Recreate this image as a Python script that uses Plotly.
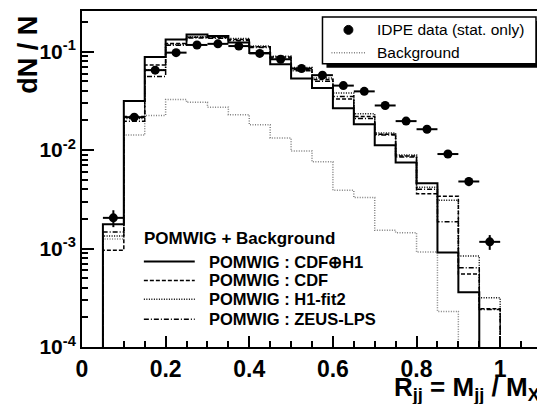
import numpy as np
import plotly.graph_objects as go

# ---------------- data ----------------
bin_lo = [0.05, 0.10, 0.15, 0.20, 0.25, 0.30, 0.35, 0.40, 0.45, 0.50,
          0.55, 0.60, 0.65, 0.70, 0.75, 0.80, 0.85, 0.90, 0.95]
bin_width = 0.05

data_y = [0.00205, 0.0216, 0.0649, 0.0977, 0.117, 0.120, 0.114, 0.096, 0.0837, 0.0674,
          0.0577, 0.0452, 0.0395, 0.0284, 0.0197, 0.0163, 0.00912, 0.0048, 0.00117]
data_err = [0.0004, 0.0012, 0.0022, 0.0028, 0.003, 0.003, 0.003, 0.0028, 0.0026, 0.0023,
            0.0021, 0.0019, 0.0017, 0.0015, 0.0012, 0.0011, 0.0008, 0.0005, 0.0002]

cdf_h1 = [0.00177, 0.0315, 0.0885, 0.133, 0.149, 0.144, 0.124, 0.097, 0.0745, 0.0535,
          0.0427, 0.0266, 0.0183, 0.0112, 0.0075, 0.0046, 0.00091, 0.00036, 0.0]
cdf = [0.00096, 0.0219, 0.073, 0.121, 0.140, 0.139, 0.133, 0.112, 0.088, 0.066,
       0.052, 0.033, 0.022, 0.0145, 0.0087, 0.0036, 0.0034, 0.00055, 0.000245]
h1fit2 = [0.00134, 0.021, 0.065, 0.118, 0.142, 0.141, 0.136, 0.114, 0.090, 0.069,
          0.054, 0.038, 0.0234, 0.0149, 0.0089, 0.0042, 0.0031, 0.00084, 0.000316]
zeus_lps = [0.00147, 0.0196, 0.056, 0.116, 0.138, 0.137, 0.130, 0.110, 0.086, 0.064,
            0.050, 0.035, 0.021, 0.0142, 0.0085, 0.0040, 0.00187, 0.00064, 0.00024]
background = [0.00125, 0.0142, 0.0225, 0.0326, 0.0306, 0.0273, 0.0229, 0.0181, 0.0133, 0.0098,
              0.0076, 0.0039, 0.0033, 0.00153, 0.00145, 0.00092, 0.00023, 0.0, 0.0]

y_tickvals = [1e-4, 1e-3, 1e-2, 1e-1]
y_ticktext = ["10<sup>-4</sup>", "10<sup>-3</sup>", "10<sup>-2</sup>", "10<sup>-1</sup>"]
x_tickvals = [0, 0.2, 0.4, 0.6, 0.8, 1.0]
x_ticktext = ["0", "0.2", "0.4", "0.6", "0.8", "1"]

FLOOR = 1e-7
FONT = "Liberation Sans, Arial, Helvetica, sans-serif"


def step(values):
    lo = np.array(bin_lo)
    v = np.array(values, dtype=float)
    v = np.where(v > 0, v, FLOOR)
    xs = np.concatenate([[lo[0]], lo, [lo[-1] + bin_width]])
    ys = np.concatenate([[FLOOR], v, [FLOOR]])
    return xs, ys


fig = go.Figure()

hist_styles = [
    (background, "#808080", "1px,1.5px", 1.5),
    (h1fit2, "black", "1px,1.5px", 1.5),
    (zeus_lps, "black", "5px,2px,1px,2px", 1.5),
    (cdf, "black", "4px,2px", 1.5),
    (cdf_h1, "black", "solid", 2),
]
for vals, col, dash, w in hist_styles:
    xs, ys = step(vals)
    fig.add_trace(go.Scatter(x=xs, y=ys, mode="lines", line_shape="hv",
                             line=dict(color=col, dash=dash, width=w),
                             showlegend=False, hoverinfo="skip"))

centers = [b + bin_width / 2 for b in bin_lo]
fig.add_trace(go.Scatter(
    x=centers, y=data_y, mode="markers",
    marker=dict(symbol="circle", size=9, color="black"),
    error_x=dict(type="constant", value=bin_width / 2, color="black", thickness=2, width=0),
    error_y=dict(type="data", array=data_err, color="black", thickness=2, width=0),
    showlegend=False))

# ---------------- layout ----------------
# page has an 8px body margin; target page coords: plot area x 82..543, y 8..347
OFF = 8
W, H = 537, 396
L, R, T, B = 74, 2, 1, 57
pw, ph = W - L - R, H - T - B


def px(x):
    return (x - OFF - L) / pw


def py(y):
    return (H - B - (y - OFF)) / ph


shapes = []
annotations = []

# top-right legend with shadow
shapes.append(dict(type="rect", xref="paper", yref="paper",
                   x0=px(327), x1=px(541), y0=py(66), y1=py(19),
                   fillcolor="black", line=dict(width=0), layer="above"))
shapes.append(dict(type="rect", xref="paper", yref="paper",
                   x0=px(323), x1=px(537), y0=py(62), y1=py(15),
                   fillcolor="white", line=dict(color="black", width=1.5), layer="above"))
shapes.append(dict(type="circle", xref="paper", yref="paper",
                   x0=px(344.5), x1=px(353.5), y0=py(32.5), y1=py(23.5),
                   fillcolor="black", line=dict(color="black", width=1), layer="above"))
shapes.append(dict(type="line", xref="paper", yref="paper",
                   x0=px(332), x1=px(367), y0=py(51), y1=py(51),
                   line=dict(color="#808080", dash="1px,1.5px", width=1.5), layer="above"))
annotations.append(dict(text="IDPE data (stat. only)", xref="paper", yref="paper",
                        x=px(376), y=py(28), xanchor="left", yanchor="middle", showarrow=False,
                        font=dict(family=FONT, size=15.5, color="black")))
annotations.append(dict(text="Background", xref="paper", yref="paper",
                        x=px(376), y=py(51), xanchor="left", yanchor="middle", showarrow=False,
                        font=dict(family=FONT, size=15.5, color="black")))

# bottom-left legend
annotations.append(dict(text="<b>POMWIG + Background</b>", xref="paper", yref="paper",
                        x=px(142), y=py(238), xanchor="left", yanchor="middle", showarrow=False,
                        font=dict(family=FONT, size=17, color="black")))
leg2 = [("POMWIG : CDF⊕H1", "solid", 2, 261),
        ("POMWIG : CDF", "4px,2px", 1.5, 280),
        ("POMWIG : H1-fit2", "1px,1.5px", 1.5, 299),
        ("POMWIG : ZEUS-LPS", "5px,2px,1px,2px", 1.5, 319)]
for txt, dash, w, yy in leg2:
    shapes.append(dict(type="line", xref="paper", yref="paper",
                       x0=px(144), x1=px(195), y0=py(yy), y1=py(yy),
                       line=dict(color="black", dash=dash, width=w), layer="above"))
    annotations.append(dict(text="<b>" + txt + "</b>", xref="paper", yref="paper",
                            x=px(207), y=py(yy), xanchor="left", yanchor="middle", showarrow=False,
                            font=dict(family=FONT, size=16.5, color="black")))

# axis titles
annotations.append(dict(text="<b>dN / N</b>", xref="paper", yref="paper",
                        x=px(28), y=py(53), xanchor="center", yanchor="middle",
                        textangle=-90, showarrow=False,
                        font=dict(family=FONT, size=27, color="black")))
annotations.append(dict(text="<b>R<sub>jj</sub> = M<sub>jj</sub> / M<sub>X</sub></b>",
                        xref="paper", yref="paper",
                        x=1.0, y=py(389), xanchor="right", yanchor="middle", showarrow=False,
                        font=dict(family=FONT, size=26, color="black")))

fig.update_layout(
    width=W, height=H,
    margin=dict(l=L, r=R, t=T, b=B, pad=0),
    paper_bgcolor="white", plot_bgcolor="white",
    shapes=shapes, annotations=annotations,
    showlegend=False,
    xaxis=dict(range=[0, 1.1], showgrid=False, zeroline=False,
               showline=True, linecolor="black", linewidth=2, mirror=True,
               ticks="inside", ticklen=11, tickwidth=1.5, tickcolor="black",
               tickvals=x_tickvals, ticktext=["<b>%s</b>" % t for t in x_ticktext],
               tickfont=dict(family=FONT, size=23, color="black"),
               minor=dict(ticks="inside", ticklen=6, tickwidth=1.5, tickcolor="black",
                          dtick=0.05, showgrid=False)),
    yaxis=dict(type="log", range=[-4, -0.587], showgrid=False, zeroline=False,
               showline=True, linecolor="black", linewidth=2, mirror=True,
               ticks="inside", ticklen=12, tickwidth=1.5, tickcolor="black",
               tickvals=y_tickvals, ticktext=["<b>%s</b>" % t for t in y_ticktext],
               tickfont=dict(family=FONT, size=21, color="black"),
               minor=dict(ticks="inside", ticklen=6, tickwidth=1.5, tickcolor="black",
                          dtick="D1", showgrid=False)),
)

fig.write_html("out.html")
